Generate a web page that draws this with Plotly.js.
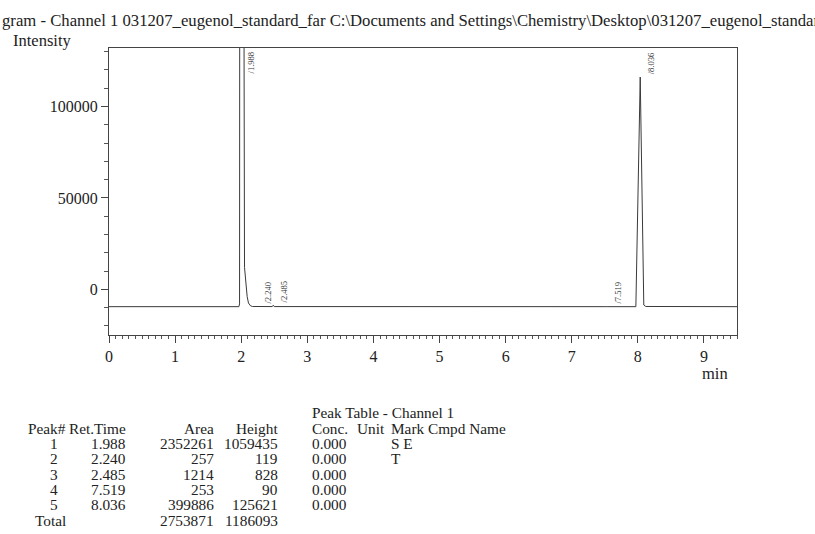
<!DOCTYPE html>
<html>
<head>
<meta charset="utf-8">
<script src="https://cdn.plot.ly/plotly-3.0.1.min.js"></script>
<style>html,body{margin:0;padding:0;background:#fff;overflow:hidden}</style>
</head>
<body>
<div id="chart" style="width:815px;height:534px"></div>
<script>
// ---- chromatogram trace ----
const timeMin = [0, 1.965, 1.975, 1.99, 2.05, 2.07, 2.09, 2.11, 2.14, 2.17, 2.23, 2.24, 2.25, 2.47, 2.485, 2.50, 7.505, 7.519, 7.535, 7.97, 8.036, 8.09, 8.12, 9.5];
const intensity = [-9500, -9500, -8000, 1050000, 12000, 3000, -4000, -7500, -9000, -9400, -9450, -9380, -9450, -9450, -8700, -9450, -9500, -9410, -9500, -9500, 116100, -8600, -9400, -9500];
const baseline = -9500;

// ---- peak table ----
const peakNo = ["1", "2", "3", "4", "5"];
const retTime = [1.988, 2.240, 2.485, 7.519, 8.036];
const retTimeText = ["1.988", "2.240", "2.485", "7.519", "8.036"];
const areaVals = ["2352261", "257", "1214", "253", "399886"];
const heightVals = [1059435, 119, 828, 90, 125621];
const concVals = ["0.000", "0.000", "0.000", "0.000", "0.000"];
const markVals = ["S E", "T", "", "", ""];
const totalArea = "2753871";
const totalHeight = "1186093";

// ---- axes ----
const xRange = [0, 9.5];
const yRange = [-25000, 132000];
const titleText = "gram - Channel 1 031207_eugenol_standard_far C:\\Documents and Settings\\Chemistry\\Desktop\\031207_eugenol_standard_far.lcd";

const FONT = "Liberation Serif, Times New Roman, serif";
const INK = "#222";

// plot box in pixels
const L = 109, R = 737.5, T = 48, B = 335;

const annotations = [];
function txt(px, py, text, anchor, size) {
  annotations.push({
    xref: "paper", yref: "paper", x: 0, y: 0,
    xshift: px - L, yshift: B - py,
    text: text, showarrow: false,
    xanchor: anchor, yanchor: "middle",
    font: {family: FONT, size: size || 15.3, color: INK}
  });
}

// page title and axis titles
txt(0, 20, titleText, "left", 16.7);
txt(11, 40, "Intensity", "left", 16.5);
txt(700, 373, "min", "left", 16.5);

// peak labels on the chromatogram
retTime.forEach((t, i) => {
  const top = baseline + heightVals[i];
  const clipped = top > yRange[1];
  annotations.push({
    xref: "x", yref: clipped ? "paper" : "y",
    x: t, y: clipped ? 1 : top,
    xanchor: "left", yanchor: clipped ? "top" : "bottom",
    xshift: clipped ? 4 : 4, yshift: clipped ? -1 : 1,
    textangle: -90, showarrow: false,
    text: "/" + retTimeText[i],
    font: {family: FONT, size: 8.5, color: "#333"}
  });
});

// peak table
const TS = 15.3;
txt(310, 412, "Peak Table - Channel 1", "left", TS);
txt(26, 428, "Peak#", "left", TS);
txt(128, 428, "Ret.Time", "right", TS);
txt(216, 428, "Area", "right", TS);
txt(280, 428, "Height", "right", TS);
txt(310, 428, "Conc.", "left", TS);
txt(355, 428, "Unit", "left", TS);
txt(389, 428, "Mark Cmpd Name", "left", TS);
const rowY0 = 443.5, rowDy = 15.3;
peakNo.forEach((p, i) => {
  const y = rowY0 + i * rowDy;
  txt(60, y, p, "right", TS);
  txt(128, y, retTimeText[i], "right", TS);
  txt(216, y, areaVals[i], "right", TS);
  txt(280, y, String(heightVals[i]), "right", TS);
  txt(310, y, concVals[i], "left", TS);
  if (markVals[i]) txt(389, y, markVals[i], "left", TS);
});
const totY = rowY0 + peakNo.length * rowDy;
txt(33, totY, "Total", "left", TS);
txt(216, totY, totalArea, "right", TS);
txt(280, totY, totalHeight, "right", TS);

const data = [{
  type: "scatter", mode: "lines",
  x: timeMin, y: intensity,
  line: {color: "#3a3a3a", width: 1},
  hoverinfo: "skip"
}];

const layout = {
  width: 815, height: 534,
  margin: {l: L, r: 815 - R, t: T, b: 534 - B, pad: 0},
  paper_bgcolor: "#fff", plot_bgcolor: "#fff",
  showlegend: false,
  font: {family: FONT, color: INK, size: 16},
  xaxis: {
    range: xRange, dtick: 1, tick0: 0,
    ticks: "outside", ticklen: 7, tickwidth: 1, tickcolor: "#444",
    showgrid: false, zeroline: false,
    showline: true, linecolor: "#444", linewidth: 1, mirror: true,
    tickfont: {family: FONT, size: 16, color: INK},
    minor: {dtick: 0.1, ticks: "outside", ticklen: 3, tickcolor: "#555", showgrid: false}
  },
  yaxis: {
    range: yRange, dtick: 50000, tick0: 0, tickformat: "d",
    ticks: "outside", ticklen: 7, tickwidth: 1, tickcolor: "#444",
    showgrid: false, zeroline: false,
    showline: true, linecolor: "#444", linewidth: 1, mirror: true,
    tickfont: {family: FONT, size: 16, color: INK},
    minor: {dtick: 10000, ticks: "outside", ticklen: 4, tickcolor: "#555", showgrid: false}
  },
  annotations: annotations
};

Plotly.newPlot("chart", data, layout, {staticPlot: true, displayModeBar: false});
</script>
</body>
</html>
